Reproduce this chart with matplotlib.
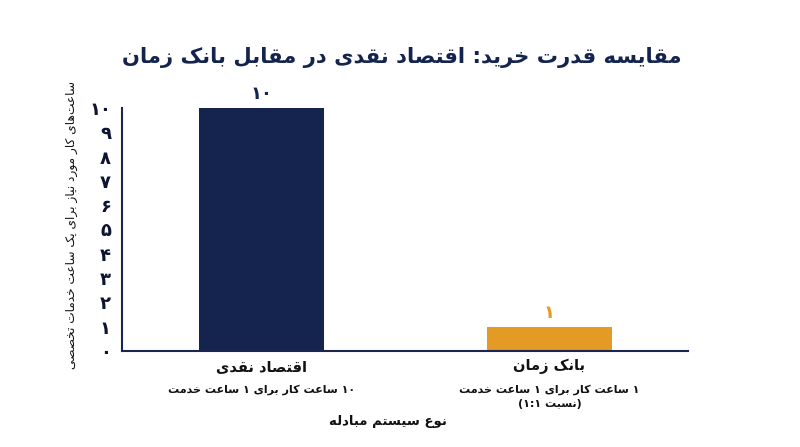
import re
import matplotlib
matplotlib.use("Agg")
import matplotlib.pyplot as plt

# data
categories = ["اقتصاد نقدی", "بانک زمان"]
hours = [10, 1]
subtitles = ["۱۰ ساعت کار برای ۱ ساعت خدمت", "۱ ساعت کار برای ۱ ساعت خدمت\n(نسبت ۱:۱)"]
bar_colors = ["#14244f", "#e39b26"]
title = "مقایسه قدرت خرید: اقتصاد نقدی در مقابل بانک زمان"
ylabel = "ساعت\u200cهای کار مورد نیاز برای یک ساعت خدمات تخصصی"
xlabel = "نوع سیستم مبادله"
yticks = list(range(0, 11))

# --- minimal arabic/persian shaping (matplotlib has no text shaping) ---
# forms: isolated, final, initial, medial
FORMS = {
    "ا": (0xFE8D, 0xFE8E), "آ": (0xFE81, 0xFE82), "د": (0xFEA9, 0xFEAA),
    "ذ": (0xFEAB, 0xFEAC), "ر": (0xFEAD, 0xFEAE), "ز": (0xFEAF, 0xFEB0),
    "ژ": (0xFB8A, 0xFB8B), "و": (0xFEED, 0xFEEE),
    "ب": (0xFE8F, 0xFE90, 0xFE91, 0xFE92), "پ": (0xFB56, 0xFB57, 0xFB58, 0xFB59),
    "ت": (0xFE95, 0xFE96, 0xFE97, 0xFE98), "ث": (0xFE99, 0xFE9A, 0xFE9B, 0xFE9C),
    "ج": (0xFE9D, 0xFE9E, 0xFE9F, 0xFEA0), "چ": (0xFB7A, 0xFB7B, 0xFB7C, 0xFB7D),
    "ح": (0xFEA1, 0xFEA2, 0xFEA3, 0xFEA4), "خ": (0xFEA5, 0xFEA6, 0xFEA7, 0xFEA8),
    "س": (0xFEB1, 0xFEB2, 0xFEB3, 0xFEB4), "ش": (0xFEB5, 0xFEB6, 0xFEB7, 0xFEB8),
    "ص": (0xFEB9, 0xFEBA, 0xFEBB, 0xFEBC), "ض": (0xFEBD, 0xFEBE, 0xFEBF, 0xFEC0),
    "ط": (0xFEC1, 0xFEC2, 0xFEC3, 0xFEC4), "ظ": (0xFEC5, 0xFEC6, 0xFEC7, 0xFEC8),
    "ع": (0xFEC9, 0xFECA, 0xFECB, 0xFECC), "غ": (0xFECD, 0xFECE, 0xFECF, 0xFED0),
    "ف": (0xFED1, 0xFED2, 0xFED3, 0xFED4), "ق": (0xFED5, 0xFED6, 0xFED7, 0xFED8),
    "ک": (0xFB8E, 0xFB8F, 0xFB90, 0xFB91), "گ": (0xFB92, 0xFB93, 0xFB94, 0xFB95),
    "ل": (0xFEDD, 0xFEDE, 0xFEDF, 0xFEE0), "م": (0xFEE1, 0xFEE2, 0xFEE3, 0xFEE4),
    "ن": (0xFEE5, 0xFEE6, 0xFEE7, 0xFEE8), "ه": (0xFEE9, 0xFEEA, 0xFEEB, 0xFEEC),
    "ی": (0xFBFC, 0xFBFD, 0xFBFE, 0xFBFF),
}


def shape_line(s):
    # lam-alef ligature
    s = s.replace("لا", "\uFEFB")
    out = []
    n = len(s)
    for i, c in enumerate(s):
        f = FORMS.get(c)
        if f is None:
            out.append(c)
            continue
        prev = s[i - 1] if i > 0 else ""
        nxt = s[i + 1] if i < n - 1 else ""
        jp = prev in FORMS and len(FORMS[prev]) == 4
        jn = len(f) == 4 and (nxt in FORMS or nxt == "\uFEFB")
        if jp and jn:
            out.append(chr(f[3]))
        elif jp:
            out.append(chr(f[1]))
        elif jn:
            out.append(chr(f[2]))
        else:
            out.append(chr(f[0]))
    res = "".join(out)
    vis = res[::-1]
    # digit runs stay left-to-right
    vis = re.sub(r"[۰-۹0-9]+(?::[۰-۹0-9]+)*", lambda m: m.group(0)[::-1], vis)
    vis = vis.translate(str.maketrans("()", ")("))
    vis = vis.replace("\u200c", "")
    return vis


def fa(s):
    return "\n".join(shape_line(l) for l in s.split("\n"))


def fa_num(v):
    return str(v).translate(str.maketrans("0123456789", "۰۱۲۳۴۵۶۷۸۹"))


plt.rcParams["font.family"] = ["DejaVu Sans"]

fig = plt.figure(figsize=(8, 4.47), dpi=100)
ax = fig.add_axes([0.1525, 0.2148, 0.7075, 0.5436])

x = [0, 1]
bars = ax.bar(x, hours, width=0.434, color=bar_colors, zorder=2)
for b, v, c in zip(bars, hours, bar_colors):
    ax.text(b.get_x() + b.get_width() / 2, v + 0.2, fa_num(v), ha="center", va="bottom",
            fontsize=13, fontweight="bold", color=c, clip_on=False)

ax.set_xlim(-0.484, 1.481)
ax.set_ylim(0, 10)
ax.set_yticks(yticks)
ax.set_yticklabels([fa_num(t) for t in yticks], fontsize=13, fontweight="bold", color="#0d1430")
ax.tick_params(axis="y", length=0, pad=8)
ax.set_xticks([])
for s in ["top", "right"]:
    ax.spines[s].set_visible(False)
for s in ["left", "bottom"]:
    ax.spines[s].set_color("#1a2550")
    ax.spines[s].set_linewidth(1.5)

# category labels and subtitles
for xi, cat, sub in zip(x, categories, subtitles):
    ax.annotate(fa(cat), xy=(xi, 0), xycoords=("data", "axes fraction"),
                xytext=(0, -8), textcoords="offset pixels", ha="center", va="top",
                fontsize=10.5, fontweight="bold", color="#111111")
    ax.annotate(fa(sub), xy=(xi, 0), xycoords=("data", "axes fraction"),
                xytext=(0, -33), textcoords="offset pixels", ha="center", va="top",
                fontsize=8, fontweight="bold", color="#111111", linespacing=1.5)

fig.text(388 / 800, 1 - 421 / 447, fa(xlabel), ha="center", va="center",
         fontsize=9.5, fontweight="bold", color="#111111")
fig.text(72 / 800, 1 - 225 / 447, fa(ylabel), ha="center", va="center", rotation=90,
         fontsize=8.7, color="#111111")
fig.text(402 / 800, 1 - 58 / 447, fa(title), ha="center", va="center",
         fontsize=15.2, fontweight="bold", color="#14244f")

fig.savefig("out.png", dpi=100)
